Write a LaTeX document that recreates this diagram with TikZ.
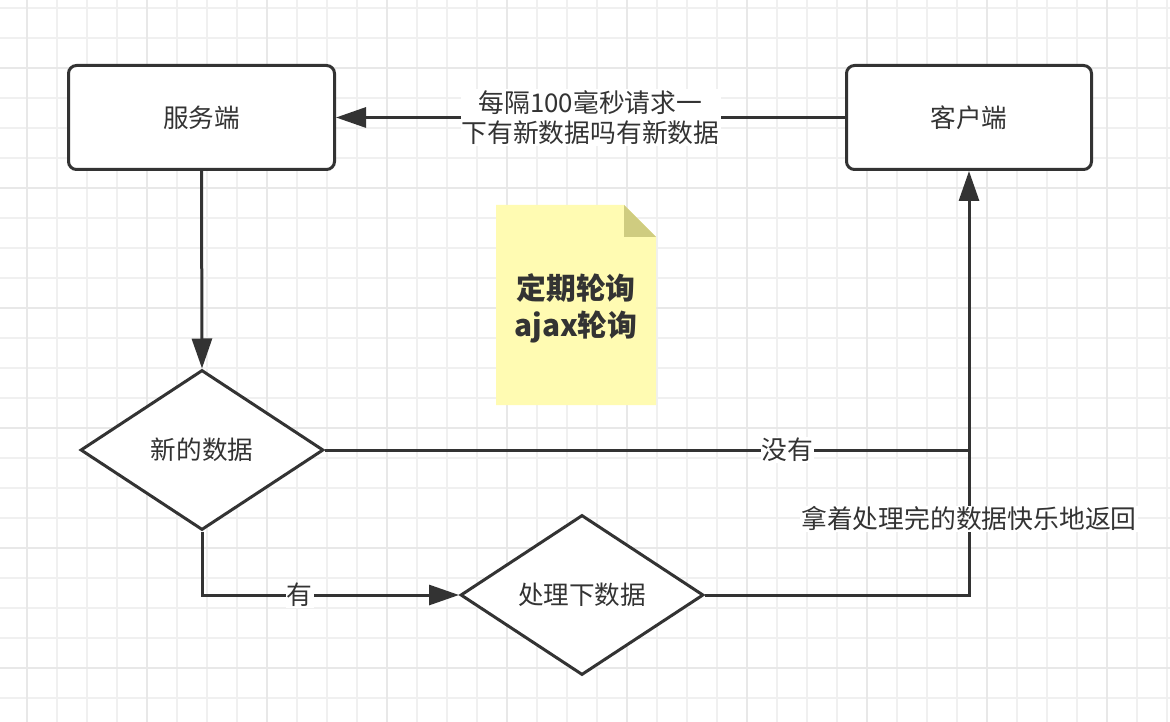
\documentclass[tikz,border=0pt]{standalone}
\usepackage{fontspec}
\setmainfont{Noto Sans CJK SC}
\usetikzlibrary{shapes.geometric,arrows.meta}
\definecolor{ink}{HTML}{333333}
\definecolor{gridminor}{HTML}{F0F0F0}
\definecolor{gridmajor}{HTML}{E8E8E8}
\definecolor{notefill}{HTML}{FFFBB2}
\definecolor{notefold}{HTML}{CFCC80}
\tikzset{
  boxnode/.style={draw=ink, line width=3pt, rounded corners=8pt, fill=white,
    minimum width=266pt, minimum height=104pt, inner sep=0pt, text=ink,
    font=\fontsize{25.6pt}{30pt}\selectfont},
  decnode/.style={draw=ink, line width=3pt, diamond, fill=white,
    minimum width=243pt, minimum height=160pt, inner sep=0pt, text=ink,
    font=\fontsize{25.6pt}{30pt}\selectfont},
  conn/.style={draw=ink, line width=3pt},
  arr/.style={conn, -{Triangle[length=30pt,width=20pt]}},
  lbl/.style={fill=white, text=ink, inner sep=1pt,
    font=\fontsize{25.8pt}{30pt}\selectfont},
}
\begin{document}
\begin{tikzpicture}[x=1pt,y=-1pt]
\useasboundingbox (0,0) rectangle (1170,722);
\fill[white] (0,0) rectangle (1170,722);
% grid
\foreach \gx in {27,57,...,1170} {\draw[gridminor, line width=2pt] (\gx,0) -- (\gx,722);}
\foreach \gy in {8,38,...,722} {\draw[gridminor, line width=2pt] (0,\gy) -- (1170,\gy);}
\foreach \gx in {27,147,...,1170} {\draw[gridmajor, line width=2pt] (\gx,0) -- (\gx,722);}
\foreach \gy in {68,188,...,722} {\draw[gridmajor, line width=2pt] (0,\gy) -- (1170,\gy);}

% note
\fill[notefill] (496,205) -- (624,205) -- (656,237) -- (656,405) -- (496,405) -- cycle;
\fill[notefold] (624,205) -- (656,237) -- (624,237) -- cycle;
\node[text=ink, align=center, font=\fontsize{29.8pt}{37pt}\selectfont\bfseries] (note) at (576,308) {定期轮询\\ajax轮询};

% nodes
\node[boxnode] (server) at (201.5,117.5) {服务端};
\node[boxnode, minimum width=245pt] (client) at (969,117.5) {客户端};
\node[decnode] (d1) at (202,450) {新的数据};
\node[decnode] (d2) at (582,595) {处理下数据};
\coordinate (j1) at (client.south |- d1.east);

% connectors
\draw[arr] (client.west) -- node[lbl, align=center]{每隔100毫秒请求一\\下有新数据吗有新数据} (server.east);
\draw[arr] (server.south) -- (d1.north);
\draw[conn] (d1.east) -- node[lbl, pos=0.718]{没有} (j1);
\draw[arr] (d1.south) |- node[lbl, pos=0.69]{有} (d2.west);
\draw[arr] (d2.east) -| node[lbl, pos=0.59]{拿着处理完的数据快乐地返回} (client.south);
\end{tikzpicture}
\end{document}
